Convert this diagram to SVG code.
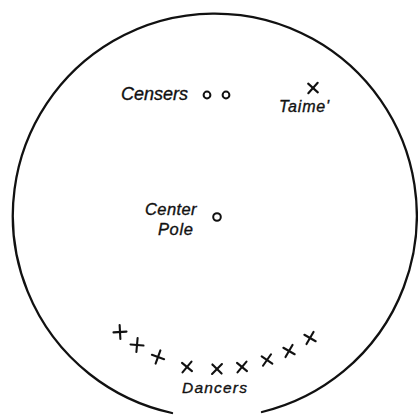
<svg xmlns="http://www.w3.org/2000/svg" width="418" height="416" viewBox="0 0 418 416">
<style>
.ink{fill:none;stroke:#111;stroke-linecap:round}
.lbl{font-family:"Liberation Sans",Arial,sans-serif;font-style:italic;fill:#111;stroke:#111;stroke-width:0.35}
</style>
<defs>
<g id="x"><line class="ink" x1="-6.5" y1="0" x2="6.5" y2="0" stroke-width="2.1"/><line class="ink" x1="0" y1="-7" x2="0" y2="7" stroke-width="2.1"/></g>
</defs>
<rect width="418" height="416" fill="#fff"/>
<g id="lodge">
<path class="ink" stroke-width="2.3" d="M172,413 A202,202 0 1 1 262,412"/>
</g>
<g id="censers">
<circle class="ink" cx="207" cy="95" r="3.4" stroke-width="2"/>
<circle class="ink" cx="226" cy="95" r="3.4" stroke-width="2"/>
<text class="lbl" x="121" y="100" font-size="18">Censers</text>
</g>
<g id="taime">
<use href="#x" transform="translate(313,88) rotate(42)"/>
<text class="lbl" x="279" y="112" font-size="16" letter-spacing="0.8">Taime'</text>
</g>
<g id="centerpole">
<circle class="ink" cx="217" cy="217" r="3.8" stroke-width="2"/>
<text class="lbl" x="145" y="215" font-size="16.5" letter-spacing="0.4">Center</text>
<text class="lbl" x="158" y="235" font-size="16.5" letter-spacing="0.6">Pole</text>
</g>
<g id="dancers">
<use href="#x" transform="translate(120,332) rotate(-3)"/>
<use href="#x" transform="translate(137,345) rotate(5)"/>
<use href="#x" transform="translate(158,357) rotate(20)"/>
<use href="#x" transform="translate(187,367) rotate(40)"/>
<use href="#x" transform="translate(217,369) rotate(45)"/>
<use href="#x" transform="translate(242,367) rotate(40)"/>
<use href="#x" transform="translate(267,360) rotate(35)"/>
<use href="#x" transform="translate(289,351) rotate(30)"/>
<use href="#x" transform="translate(310,338) rotate(30)"/>
<text class="lbl" x="182" y="393" font-size="15.5" letter-spacing="1.2">Dancers</text>
</g>
</svg>
